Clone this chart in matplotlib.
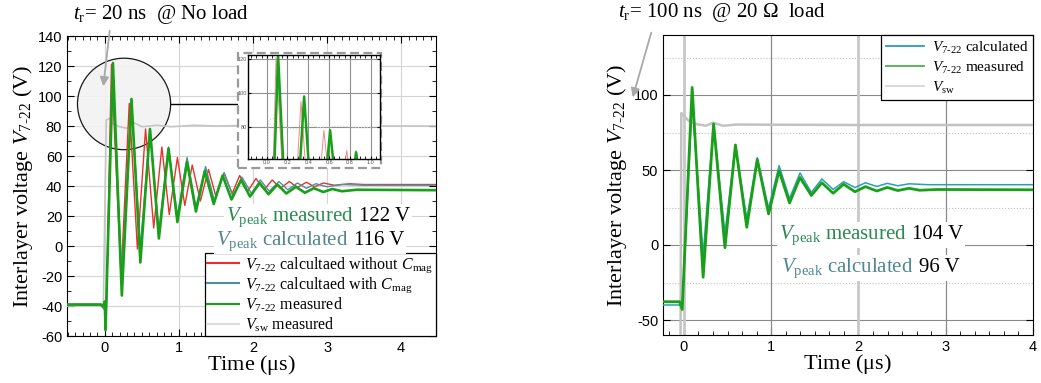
import numpy as np
import matplotlib
matplotlib.use("Agg")
import matplotlib.pyplot as plt
from matplotlib.patches import Ellipse, Rectangle
from matplotlib.ticker import MultipleLocator, AutoMinorLocator
from matplotlib.offsetbox import TextArea, HPacker, AnchoredOffsetbox
from matplotlib.font_manager import FontProperties

plt.rcParams['font.family'] = ['Liberation Sans', 'DejaVu Sans']
plt.rcParams['axes.unicode_minus'] = False
plt.rcParams['mathtext.fontset'] = 'custom'
plt.rcParams['mathtext.rm'] = 'Liberation Serif'
plt.rcParams['mathtext.it'] = 'Liberation Serif:italic'

SERIF = ['Liberation Serif', 'DejaVu Serif']

# ---- left panel: no load, tr = 20 ns (extrema) ----
t_meas_l = [-0.51, -0.05, -0.02, 0.0, 0.01, 0.11, 0.23, 0.36, 0.48, 0.61, 0.73, 0.86, 0.98,
            1.11, 1.23, 1.35, 1.47, 1.59, 1.71, 1.84, 1.96, 2.09, 2.21, 2.33, 2.45, 2.58,
            2.70, 2.82, 2.95, 3.07, 3.20, 3.40, 4.47]
v_meas_l = [-39, -39, -40, -37, -56, 122, -33, 98, -11, 78, 5, 65, 16,
            56, 23, 50, 28, 47, 31, 44, 33, 42, 34.5, 41, 35, 39.5,
            35.5, 38.5, 36, 38, 36.5, 37.5, 37.2]

t_nocm_l = [-0.51, -0.06, 0.02, 0.09, 0.22, 0.33, 0.44, 0.55, 0.66, 0.77, 0.87, 0.98, 1.08,
            1.18, 1.29, 1.40, 1.50, 1.61, 1.72, 1.82, 1.93, 2.04, 2.15, 2.26, 2.37, 2.49,
            2.60, 2.72, 2.83, 2.95, 3.10, 3.30, 3.50, 4.47]
v_nocm_l = [-39, -39, -44, 121, -21, 95, -2, 78, 12, 66, 21, 59, 27,
            54, 30, 51, 33, 48.5, 35, 47, 36.5, 45, 37.5, 44, 38.5, 43,
            39, 42.5, 39.5, 42, 40.5, 41.5, 41, 41]

t_cm_l = [-0.51, -0.06, 0.02, 0.10, 0.23, 0.36, 0.48, 0.61, 0.73, 0.86, 0.98, 1.11, 1.23,
          1.36, 1.48, 1.61, 1.73, 1.85, 1.98, 2.10, 2.22, 2.35, 2.47, 2.60, 2.72, 2.85,
          3.00, 3.20, 3.50, 4.47]
v_cm_l = [-39.5, -39.5, -43, 118, -19, 97, -1, 78, 10, 66, 20, 59, 26,
          53, 30, 49, 33, 46, 35, 44, 36.5, 43, 37.5, 42, 38.5, 41.5,
          39.5, 41, 40.5, 40.5]

t_sw_l = [-0.51, -0.02, 0.02, 0.06, 0.12, 0.20, 0.30, 0.40, 0.50, 0.70, 0.90, 1.20, 1.50, 2.0, 3.0, 4.47]
v_sw_l = [-40, -40, 84, 85, 81, 79.5, 78.5, 82, 79.5, 80.5, 79.5, 80.5, 80, 80.5, 80, 80]

# ---- right panel: 20 ohm load, tr = 100 ns ----
t_meas_r = [-0.24, -0.05, -0.02, 0.094, 0.22, 0.34, 0.47, 0.59, 0.72, 0.84, 0.97, 1.09, 1.21,
            1.33, 1.46, 1.58, 1.71, 1.83, 1.96, 2.08, 2.21, 2.33, 2.45, 2.58, 2.70, 2.90, 4.0]
v_meas_r = [-37.8, -37.8, -43, 105, -21.5, 80.7, -1.8, 66.7, 11.8, 57, 20.7, 49.5, 28,
            45, 33, 41.5, 34.5, 40.5, 35.5, 38.9, 36, 38.4, 36.3, 37.8, 36.5, 37, 36.8]

t_calc_r = [-0.24, -0.05, -0.02, 0.094, 0.22, 0.34, 0.47, 0.59, 0.72, 0.84, 0.97, 1.09, 1.21,
            1.33, 1.46, 1.58, 1.71, 1.83, 1.96, 2.08, 2.21, 2.33, 2.45, 2.58, 2.80, 4.0]
v_calc_r = [-40, -40, -42, 95.5, -6.7, 81, 7.8, 66.7, 17.3, 58.2, 24.4, 52.9, 31,
            48, 35, 44, 37, 42.2, 38.3, 41.5, 39, 41.1, 39.5, 40.8, 40.2, 40.2]

t_sw_r = [-0.24, -0.04, -0.03, 0.0, 0.06, 0.15, 0.25, 0.33, 0.45, 0.60, 1.0, 2.0, 4.0]
v_sw_r = [-75, -75, 88, 86, 82.5, 80.5, 79.5, 81.5, 79.5, 80.3, 80.2, 80, 80]

RED = '#e8332c'
TEAL_L = '#4e8fa3'
GREEN = '#18a018'
GRAY = '#c6c6c6'
TEAL_R = '#2a9fb3'
TXT_GREEN = '#2a8a52'
TXT_TEAL = '#4f8790'


def vsub(s):
    return r"$V_{\mathrm{" + s + "}}$"


def peak_text(fig, x, y, colored, color, number, size):
    parts = [TextArea(colored, textprops=dict(color=color, size=size, family=SERIF)),
             TextArea(number, textprops=dict(color='black', size=size, family=SERIF))]
    box = HPacker(children=parts, align="baseline", pad=0, sep=4)
    anchored = AnchoredOffsetbox(loc='center', child=box, pad=0.1, frameon=True,
                                 bbox_to_anchor=(x, y), bbox_transform=fig.transFigure,
                                 borderpad=0)
    anchored.patch.set_facecolor('white')
    anchored.patch.set_edgecolor('none')
    fig.add_artist(anchored)


fig = plt.figure(figsize=(10.41, 3.83), dpi=100)

# ================= left panel =================
ax1 = fig.add_axes([67 / 1041, 1 - 336 / 383, 369 / 1041, 300 / 383])
ax1.plot(t_sw_l, v_sw_l, color=GRAY, lw=1.2, zorder=3)
ax1.plot(t_nocm_l, v_nocm_l, color=RED, lw=1.0, zorder=4)
ax1.plot(t_cm_l, v_cm_l, color=TEAL_L, lw=1.0, zorder=4)
ax1.plot(t_meas_l, v_meas_l, color=GREEN, lw=1.9, zorder=5)
ax1.set_xlim(-0.51, 4.47)
ax1.set_ylim(-60, 140)
ax1.xaxis.set_major_locator(MultipleLocator(1))
ax1.xaxis.set_minor_locator(MultipleLocator(0.1))
ax1.yaxis.set_major_locator(MultipleLocator(20))
ax1.yaxis.set_minor_locator(MultipleLocator(10))
ax1.tick_params(which='both', direction='in', top=True, right=True, labelsize=10.5)
ax1.tick_params(which='major', length=5)
ax1.tick_params(which='minor', length=3)
ax1.grid(True, color='#d4d4d4', lw=0.8, zorder=0)
ax1.set_axisbelow(True)
ax1.set_xlabel(r"Time ($\mathrm{\mu}$s)", family=SERIF, fontsize=16, labelpad=-1)
ax1.set_ylabel("Interlayer voltage " + r"$V_{\mathrm{7‐22}}$ (V)", family=SERIF, fontsize=16, labelpad=2)

ax1.add_patch(Ellipse((0.26, 94.7), 1.257, 61, facecolor='#f2f2f2', edgecolor='black',
                      lw=0.9, alpha=0.9, zorder=2))
ax1.plot([0.89, 1.80], [94.7, 94.7], color='black', lw=1.0, zorder=6)

leg1 = ax1.legend(handles=[
    plt.Line2D([], [], color=RED, lw=1.5),
    plt.Line2D([], [], color=TEAL_L, lw=1.5),
    plt.Line2D([], [], color=GREEN, lw=1.5),
    plt.Line2D([], [], color='#dcdcdc', lw=1.5)],
    labels=[vsub("7‐22") + " calcultaed without " + r"$C_{\mathrm{mag}}$",
            vsub("7‐22") + " calcultaed with " + r"$C_{\mathrm{mag}}$",
            vsub("7‐22") + " measured",
            vsub("sw") + " measured"],
    loc='lower right', borderaxespad=0, fancybox=False, framealpha=1, edgecolor='black',
    prop=FontProperties(family='Liberation Serif', size=11.5), labelspacing=0.05,
    handlelength=2.0, handletextpad=0.4, borderpad=0.15)
leg1.get_frame().set_linewidth(0.9)
leg1.set_zorder(10)

# inset box and zoomed axes
fig.add_artist(Rectangle((238 / 1041, 1 - 168 / 383), 143 / 1041, 115 / 383,
                         transform=fig.transFigure, facecolor='white', edgecolor='#9a9a9a',
                         lw=1.6, ls=(0, (4, 2)), zorder=7))
axin = fig.add_axes([248 / 1041, 1 - 159 / 383, 132 / 1041, 104 / 383], zorder=8)
axin.plot(t_sw_l, v_sw_l, color='#cfcfcf', lw=0.8, ls=':')
axin.plot(t_nocm_l, v_nocm_l, color='#f08a86', lw=0.7)
axin.plot(t_cm_l, v_cm_l, color='#8fc3d0', lw=0.7)
axin.plot(t_meas_l, v_meas_l, color=GREEN, lw=1.8)
axin.set_xlim(-0.18, 1.09)
axin.set_ylim(61, 122.5)
axin.xaxis.set_major_locator(MultipleLocator(0.2))
axin.yaxis.set_major_locator(MultipleLocator(20))
axin.xaxis.set_minor_locator(MultipleLocator(0.05))
axin.tick_params(which='both', direction='in', top=True, right=True, labelsize=4,
                 labelcolor='#555555', length=2, pad=1)
axin.grid(True, color='#909090', lw=0.8)
axin.set_axisbelow(True)
for s in axin.spines.values():
    s.set_linewidth(1.0)

peak_text(fig, 318 / 1041, 1 - 217 / 383, r"$V_{\mathrm{peak}}$" + " measured", TXT_GREEN, "122 V", 15)
peak_text(fig, 310 / 1041, 1 - 241 / 383, r"$V_{\mathrm{peak}}$" + " calculated", TXT_TEAL, "116 V", 15)

fig.text(73 / 1041, 1 - 14 / 383, r"$t_{\mathrm{r}}$= 20 ns  @ No load", family=SERIF,
         fontsize=15, va='center', ha='left')
fig.add_artist(plt.Annotation("", xy=(103 / 1041, 1 - 89 / 383), xycoords=fig.transFigure,
                              xytext=(110 / 1041, 1 - 28 / 383), textcoords=fig.transFigure,
                              arrowprops=dict(arrowstyle='-|>', color='#a8a8a8', lw=1.3,
                                              mutation_scale=13)))

# ================= right panel =================
ax2 = fig.add_axes([663 / 1041, 1 - 335 / 383, 370 / 1041, 300 / 383])
ax2.plot(t_sw_r, v_sw_r, color='#c2c2c2', lw=1.8, zorder=3)
ax2.plot(t_calc_r, v_calc_r, color=TEAL_R, lw=1.1, zorder=4)
ax2.plot(t_meas_r, v_meas_r, color=GREEN, lw=2.0, zorder=5)
ax2.set_xlim(-0.24, 4.0)
ax2.set_ylim(-60, 140)
ax2.xaxis.set_major_locator(MultipleLocator(1))
ax2.xaxis.set_minor_locator(AutoMinorLocator(6))
ax2.yaxis.set_major_locator(MultipleLocator(50))
ax2.yaxis.set_minor_locator(MultipleLocator(25))
ax2.tick_params(which='both', direction='in', top=False, right=True, labelsize=10.5)
ax2.tick_params(which='major', length=5)
ax2.tick_params(which='minor', length=3)
ax2.tick_params(axis='y', which='minor', length=0)
for xv, c, w in zip([0, 1, 2, 3], ['#c8c8c8', '#8a8a8a', '#c8c8c8', '#8a8a8a'], [2.0, 0.9, 2.0, 0.9]):
    ax2.axvline(xv, color=c, lw=w, zorder=1)
ax2.grid(True, axis='y', which='major', color='#8a8a8a', lw=0.8, zorder=0)
ax2.grid(True, axis='y', which='minor', color='#c0c0c0', lw=0.8, ls=':', zorder=0)
ax2.set_axisbelow(True)
ax2.set_xlabel(r"Time ($\mathrm{\mu}$s)", family=SERIF, fontsize=16, labelpad=-1)
ax2.set_ylabel("Interlayer voltage " + r"$V_{\mathrm{7‐22}}$ (V)", family=SERIF, fontsize=16, labelpad=3)

leg2 = ax2.legend(handles=[
    plt.Line2D([], [], color=TEAL_R, lw=1.3),
    plt.Line2D([], [], color='#4cb050', lw=1.3),
    plt.Line2D([], [], color='#d6d6d6', lw=1.3)],
    labels=[vsub("7‐22") + " calculated", vsub("7‐22") + " measured", vsub("sw")],
    loc='upper right', borderaxespad=0, fancybox=False, framealpha=1, edgecolor='black',
    prop=FontProperties(family='Liberation Serif', size=11), labelspacing=0.25,
    handlelength=2.5, handletextpad=0.5, borderpad=0.3)
leg2.get_frame().set_linewidth(0.9)
leg2.set_zorder(10)

peak_text(fig, 871 / 1041, 1 - 235 / 383, r"$V_{\mathrm{peak}}$" + " measured", TXT_GREEN, "104 V", 15)
peak_text(fig, 870 / 1041, 1 - 268 / 383, r"$V_{\mathrm{peak}}$" + " calculated", TXT_TEAL, "96 V", 15)

fig.text(618 / 1041, 1 - 13 / 383, r"$t_{\mathrm{r}}$= 100 ns  @ 20 Ω  load", family=SERIF,
         fontsize=15, va='center', ha='left')
fig.add_artist(plt.Annotation("", xy=(632 / 1041, 1 - 100 / 383), xycoords=fig.transFigure,
                              xytext=(652 / 1041, 1 - 30 / 383), textcoords=fig.transFigure,
                              arrowprops=dict(arrowstyle='-|>', color='#a8a8a8', lw=1.3,
                                              mutation_scale=13)))

fig.savefig("out.png", dpi=100)
